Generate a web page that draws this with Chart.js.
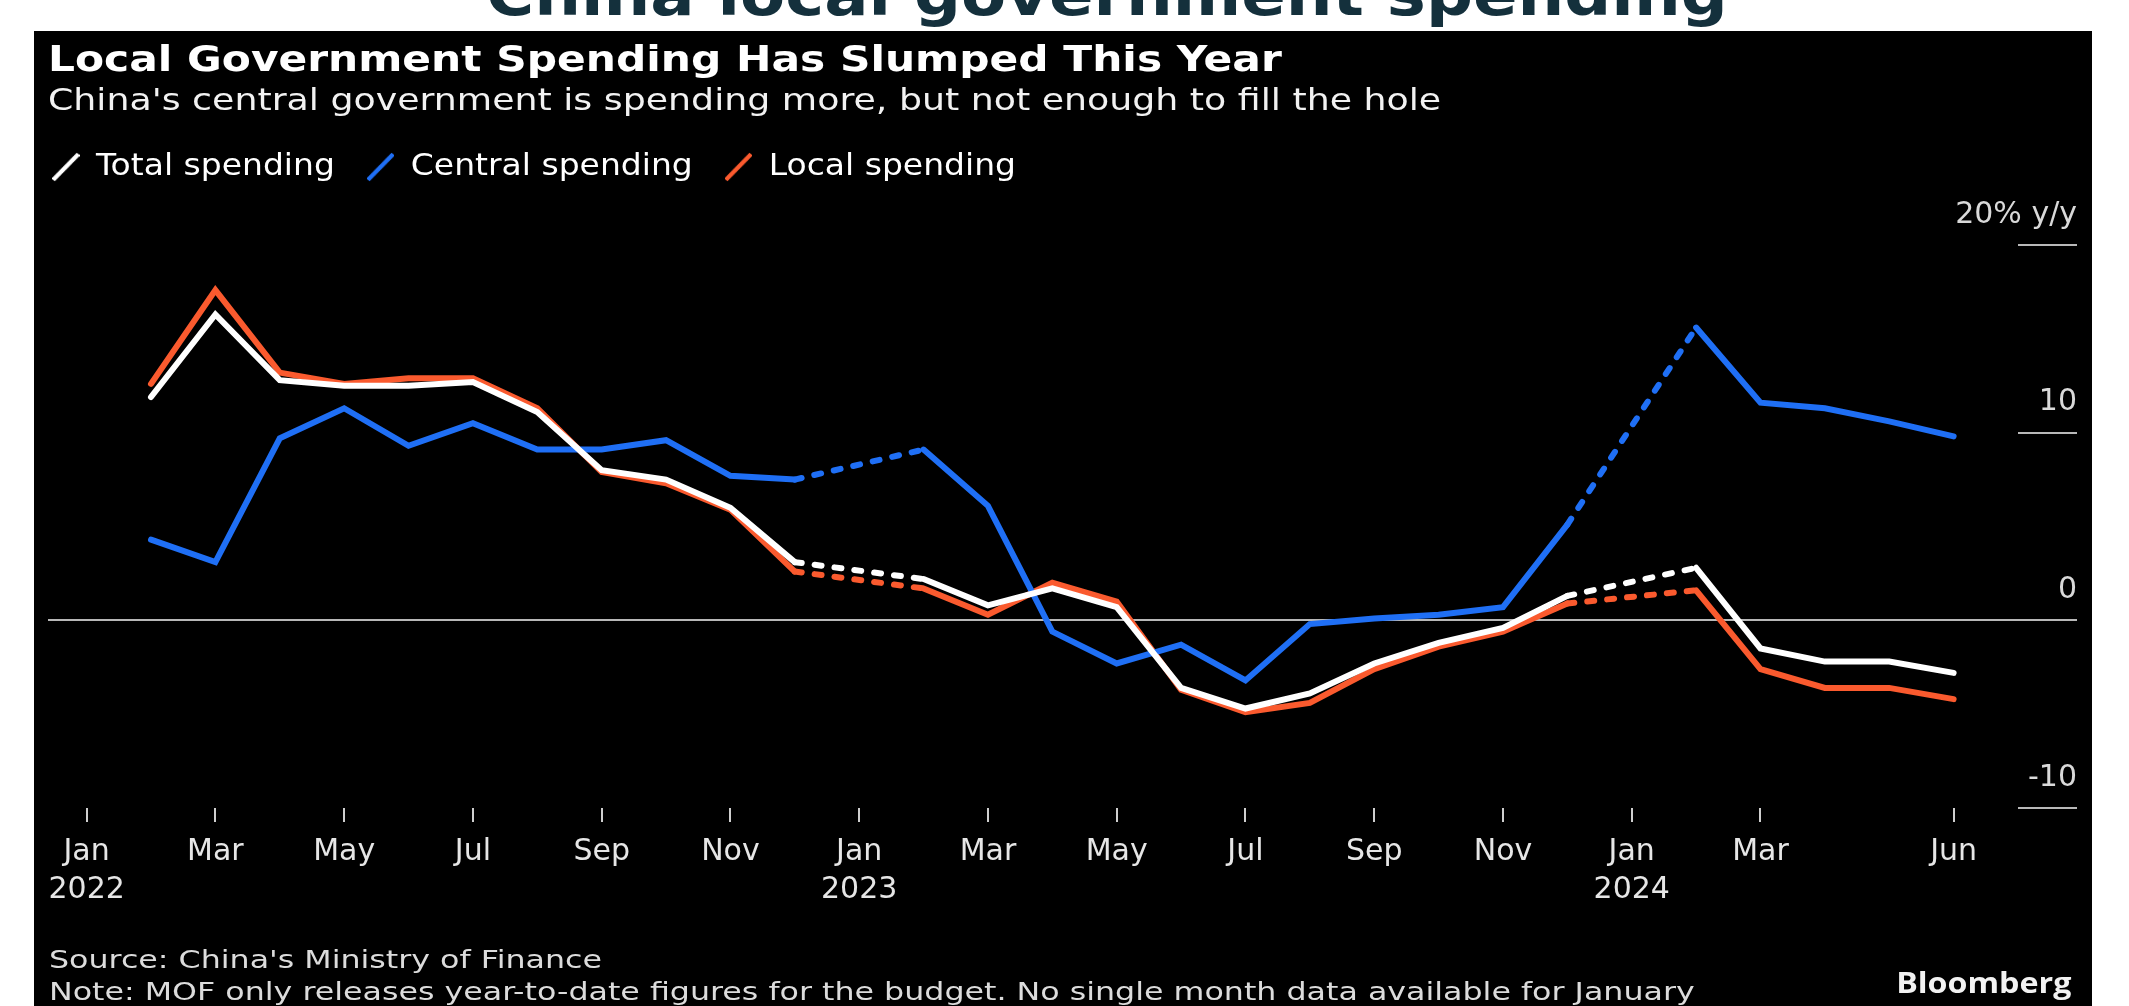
<!DOCTYPE html>
<html>
<head>
<meta charset="utf-8">
<title>China local government spending</title>
<script src="https://cdn.jsdelivr.net/npm/chart.js@4.4.1/dist/chart.umd.min.js"></script>
<style>
  html, body {
    margin: 0;
    padding: 0;
    width: 2129px;
    height: 1006px;
    overflow: hidden;
    background: #fff;
    font-family: "DejaVu Sans", sans-serif;
  }
  .headline {
    position: absolute;
    left: 486px;
    top: -34px;
    font: bold 58px/58px "DejaVu Sans", sans-serif;
    color: #14303c;
    white-space: nowrap;
    transform: scaleX(1.133);
    transform-origin: left center;
  }
  .panel {
    position: absolute;
    left: 34px;
    top: 31px;
    width: 2058px;
    height: 975px;
    background: #000;
    overflow: hidden;
  }
  .panel canvas {
    position: absolute;
    left: 0;
    top: 0;
  }
  .notes {
    position: absolute;
    left: 15px;
    top: 913px;
    font: 24px/32px "DejaVu Sans", sans-serif;
    color: #dcdcdc;
    white-space: nowrap;
    transform: scaleX(1.32);
    transform-origin: left top;
  }
  .brand {
    position: absolute;
    right: 21px;
    top: 933px;
    font: bold 28px/36px "Open Sans", sans-serif;
    color: #f2f2f2;
    transform: scaleX(1.15);
    transform-origin: right center;
  }
</style>
</head>
<body>
<div class="headline">China local government spending</div>
<div class="panel">
  <canvas id="spendingChart" width="2058" height="975"></canvas>
  <div class="notes">
    Source: China's Ministry of Finance<br>
    Note: MOF only releases year-to-date figures for the budget. No single month data available for January
  </div>
  <div class="brand">Bloomberg</div>
</div>

<script>
const monthNames = ["Jan", "Feb", "Mar", "Apr", "May", "Jun", "Jul", "Aug", "Sep", "Oct", "Nov", "Dec"];

// Feb 2022 - Jun 2024, January has no single-month figure
const months = [
  "Feb 2022", "Mar 2022", "Apr 2022", "May 2022", "Jun 2022", "Jul 2022",
  "Aug 2022", "Sep 2022", "Oct 2022", "Nov 2022", "Dec 2022",
  "Jan 2023", "Feb 2023", "Mar 2023", "Apr 2023", "May 2023", "Jun 2023",
  "Jul 2023", "Aug 2023", "Sep 2023", "Oct 2023", "Nov 2023", "Dec 2023",
  "Jan 2024", "Feb 2024", "Mar 2024", "Apr 2024", "May 2024", "Jun 2024",
];

// % y/y
const totalSpending = [
  11.9, 16.3, 12.8, 12.5, 12.5, 12.7, 11.1, 8.0, 7.5, 6.0, 3.1,
  null, 2.2, 0.8, 1.7, 0.7, -3.6, -4.7, -3.9, -2.3, -1.2, -0.4, 1.3,
  null, 2.8, -1.5, -2.2, -2.2, -2.8,
];
const centralSpending = [
  4.3, 3.1, 9.7, 11.3, 9.3, 10.5, 9.1, 9.1, 9.6, 7.7, 7.5,
  null, 9.1, 6.1, -0.6, -2.3, -1.3, -3.2, -0.2, 0.1, 0.3, 0.7, 5.1,
  null, 15.6, 11.6, 11.3, 10.6, 9.8,
];
const localSpending = [
  12.6, 17.6, 13.2, 12.6, 12.9, 12.9, 11.3, 7.9, 7.3, 5.9, 2.6,
  null, 1.7, 0.3, 2.0, 1.0, -3.7, -4.9, -4.4, -2.6, -1.4, -0.6, 0.9,
  null, 1.6, -2.6, -3.6, -3.6, -4.2,
];

// x ticks are month offsets from Jan 2022
const xTicks = [0, 2, 4, 6, 8, 10, 12, 14, 16, 18, 20, 22, 24, 26, 29];
const xTickLabels = [
  ["Jan", "2022"], "Mar", "May", "Jul", "Sep", "Nov",
  ["Jan", "2023"], "Mar", "May", "Jul", "Sep", "Nov",
  ["Jan", "2024"], "Mar", "Jun",
];
const yTicks = [-10, 0, 10, 20];
const yTickLabels = ["-10", "0", "10", "20% y/y"];

const FONT = '"DejaVu Sans", sans-serif';

function monthIndex(label) {
  const [m, y] = label.split(" ");
  return (Number(y) - 2022) * 12 + monthNames.indexOf(m);
}

function toPoints(values) {
  return months.map((m, i) => ({ x: monthIndex(m), y: values[i] }));
}

// small "/" mark used as the legend symbol
function slashIcon(color) {
  const c = document.createElement("canvas");
  c.width = 25;
  c.height = 30;
  const g = c.getContext("2d");
  g.strokeStyle = color;
  g.lineWidth = 4;
  g.beginPath();
  g.moveTo(1, 28);
  g.lineTo(24, 2);
  g.stroke();
  return c;
}

// segments that jump over a missing January are dashed
const dashAcrossGap = (ctx) =>
  ctx.p1DataIndex - ctx.p0DataIndex > 1 || ctx.p0.skip || ctx.p1.skip ? [7, 13] : undefined;

// draws a layout box (title, legend) stretched horizontally
function stretchBox(box, sx, fromX, toX) {
  const draw = box.draw;
  box.draw = function (...args) {
    const c = this.ctx;
    const src = fromX(this);
    c.save();
    c.translate(toX(this), 0);
    c.scale(sx, 1);
    c.translate(-src, 0);
    draw.apply(this, args);
    c.restore();
  };
}

const headerLayout = {
  id: "headerLayout",
  afterInit(chart) {
    // extra room between legend and plot
    const legend = chart.legend;
    const fit = legend.fit;
    legend.fit = function () {
      fit.call(this);
      this.height += 53;
    };
    stretchBox(legend, 1.1, (b) => b.left + b.options.labels.padding, () => 18);

    const title = chart.titleBlock;
    stretchBox(title, 1.21, (b) => b.left, (b) => b.left);
    const subtitle = chart.boxes.find((b) => b !== title && b.constructor === title.constructor);
    if (subtitle) stretchBox(subtitle, 1.21, (b) => b.left, (b) => b.left);
  },
};

function lineSeries(label, values, color) {
  return {
    label: label,
    data: toPoints(values),
    borderColor: color,
    backgroundColor: color,
    borderWidth: 6,
    borderCapStyle: "round",
    borderJoinStyle: "miter",
    pointRadius: 0,
    pointStyle: slashIcon(color),
    tension: 0,
    spanGaps: true,
    segment: { borderDash: dashAcrossGap },
  };
}

Chart.defaults.font.family = FONT;

const ctx = document.getElementById("spendingChart").getContext("2d");

const spendingChart = new Chart(ctx, {
  type: "line",
  data: {
    datasets: [
      lineSeries("Total spending", totalSpending, "#ffffff"),
      lineSeries("Central spending", centralSpending, "#1f6ff5"),
      lineSeries("Local spending", localSpending, "#fa5a2e"),
    ],
  },
  options: {
    responsive: false,
    animation: false,
    events: [],
    layout: {
      padding: { left: 14, right: 15, top: 0, bottom: 86 },
    },
    scales: {
      x: {
        type: "linear",
        min: -0.6,
        max: 30,
        afterBuildTicks: (scale) => {
          scale.ticks = xTicks.map((v) => ({ value: v }));
        },
        afterFit: (scale) => {
          scale.height = 112;
        },
        border: { display: false },
        grid: {
          drawOnChartArea: false,
          tickLength: 14,
          tickColor: "#cfcfcf",
          lineWidth: 2,
        },
        ticks: {
          autoSkip: false,
          maxRotation: 0,
          padding: 11,
          color: "#e6e6e6",
          font: { size: 30, lineHeight: 1.27 },
          callback: (v) => xTickLabels[xTicks.indexOf(v)],
        },
      },
      y: {
        position: "right",
        min: -10,
        max: 20,
        afterBuildTicks: (scale) => {
          scale.ticks = yTicks.map((v) => ({ value: v }));
        },
        afterFit: (scale) => {
          scale.width = 59;
        },
        border: { display: false },
        grid: {
          color: (c) => (c.tick && c.tick.value === 0 ? "#b8b8b8" : "rgba(0,0,0,0)"),
          tickColor: "#b8b8b8",
          lineWidth: 2,
          tickLength: 59,
        },
        ticks: {
          mirror: true,
          crossAlign: "near",
          padding: 59,
          labelOffset: -30,
          color: "#d9d9d9",
          font: { size: 30 },
          callback: (v) => yTickLabels[yTicks.indexOf(v)],
        },
      },
    },
    plugins: {
      title: {
        display: true,
        text: "Local Government Spending Has Slumped This Year",
        align: "start",
        color: "#ffffff",
        font: { size: 35, weight: "bold" },
        padding: { top: 10, bottom: 0 },
      },
      subtitle: {
        display: true,
        text: "China's central government is spending more, but not enough to fill the hole",
        align: "start",
        color: "#f2f2f2",
        font: { size: 30 },
        padding: { top: 1, bottom: 3 },
      },
      legend: {
        position: "top",
        align: "start",
        labels: {
          usePointStyle: true,
          pointStyleWidth: 25,
          boxHeight: 30,
          padding: 29,
          color: "#ffffff",
          font: { size: 30 },
        },
      },
      tooltip: { enabled: false },
    },
  },
  plugins: [headerLayout],
});
</script>
</body>
</html>
